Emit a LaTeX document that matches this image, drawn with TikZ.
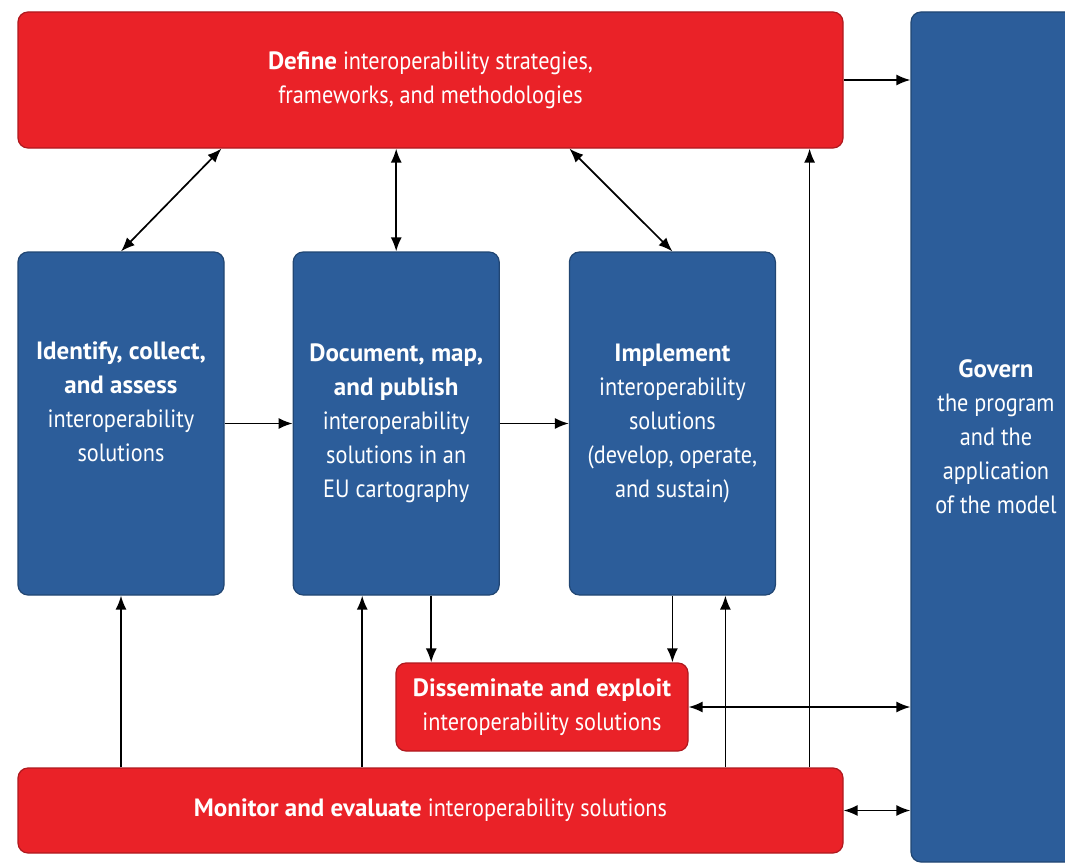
\documentclass[tikz,border=0pt]{standalone}
\usepackage{fontspec}
\setmainfont{PT Sans}[UprightFeatures={FakeStretch=0.89}, BoldFeatures={FakeStretch=1.0}]
\definecolor{ired}{HTML}{EA2228}
\definecolor{iblue}{HTML}{2C5D9A}
\usetikzlibrary{arrows.meta}
\usetikzlibrary{positioning}

\begin{document}
\begin{tikzpicture}[x=1pt,y=-1pt,
		box/.style={draw=#1!75!black, fill=#1, rounded corners=10pt, line width=1.2pt,
			text=white, align=center, inner sep=0pt, font=\fontsize{25}{34}\selectfont},
		arr/.style={-{Latex[length=14pt,width=11pt]}, line width=1.7pt},
		darr/.style={{Latex[length=14pt,width=11pt]}-{Latex[length=14pt,width=11pt]}, line width=1.7pt}]
		\useasboundingbox (0,0) rectangle (1065,867);
		\clip (0,0) rectangle (1065,867);
		%red boxes
		\node[box=ired, minimum width=825pt, minimum height=136pt] (define) at (430.5,80)
		{\textbf{Define} interoperability strategies,\\ frameworks, and methodologies};
		\node[box=ired, minimum width=292pt, minimum height=88pt] (dissem) at (542,707)
		{\textbf{Disseminate and exploit}\\ interoperability solutions};
		\node[box=ired, minimum width=825pt, minimum height=85pt] (monitor) at (430.5,810.5)
		{\textbf{Monitor and evaluate} interoperability solutions};
		%blue boxes
		\node[box=iblue, minimum width=170pt, minimum height=850pt] (govern) at (996,437)
		{\textbf{Govern}\\ the program\\ and the\\ application\\ of the model};
		\node[box=iblue, minimum width=206pt, minimum height=343pt] (identify) at (121,423.5)
		{\textbf{Identify, collect,}\\ \textbf{and assess}\\ interoperability\\ solutions\\ \strut};
		\node[box=iblue, minimum width=206pt, minimum height=343pt, right=68pt of identify] (document)
		{\textbf{Document, map,}\\ \textbf{and publish}\\ interoperability\\ solutions in an\\ EU cartography};
		\node[box=iblue, minimum width=206pt, minimum height=343pt, right=69pt of document] (implement)
		{\textbf{Implement}\\ interoperability\\ solutions\\ (develop, operate,\\ and sustain)};
		%arrow ends
		\coordinate (docin) at ([xshift=-34pt]document.south);
		\coordinate (docout) at ([xshift=35pt]document.south);
		\coordinate (impin) at ([xshift=53pt]implement.south);
		\coordinate (defin) at ([xshift=-34pt]define.south east);
		%define and the three steps
		\draw[darr] ([xshift=204pt]define.south west) -- (identify.north);
		\draw[darr] (define.south -| document.north) -- (document.north);
		\draw[darr] ([xshift=552pt]define.south west) -- (implement.north);
		\draw[arr] (identify.east) -- (document.west);
		\draw[arr] (document.east) -- (implement.west);
		%down to dissemination
		\draw[arr] (docout) -- (docout |- dissem.north);
		\draw[arr] (implement.south) -- (implement.south |- dissem.north);
		%monitoring feedback
		\draw[arr] (monitor.north -| identify.south) -- (identify.south);
		\draw[arr] (monitor.north -| docin) -- (docin);
		\draw[arr] (monitor.north -| impin) -- (impin);
		\draw[arr] (monitor.north -| defin) -- (defin);
		%governance
		\draw[arr] (define.east) -- (define.east -| govern.west);
		\draw[darr] (dissem.east) -- (dissem.east -| govern.west);
		\draw[darr] (monitor.east) -- (monitor.east -| govern.west);
\end{tikzpicture}
\end{document}
